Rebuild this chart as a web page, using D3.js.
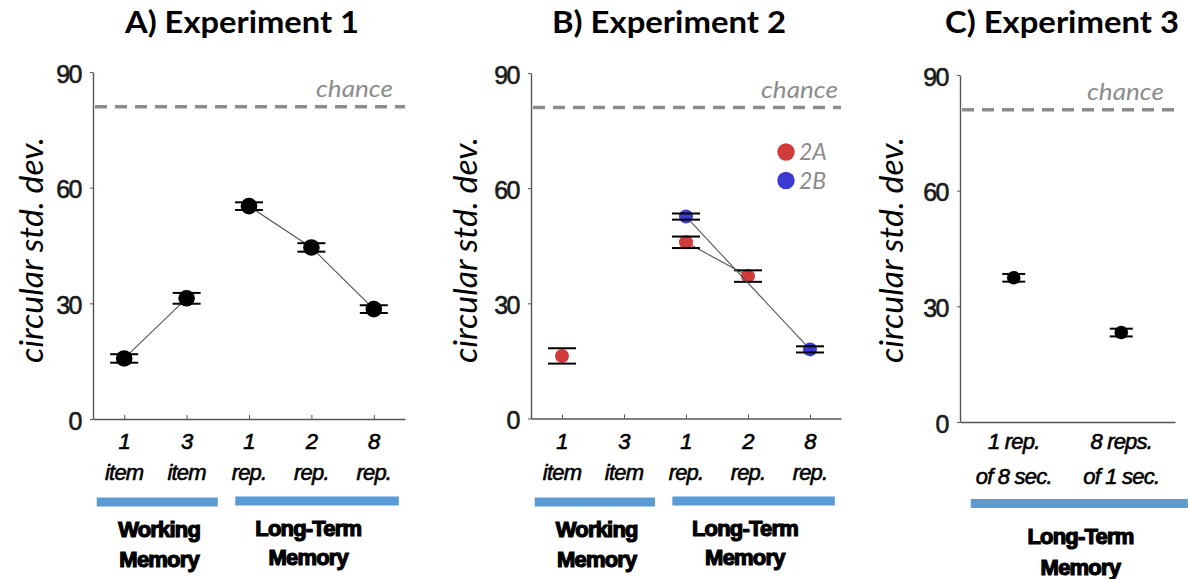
<!DOCTYPE html>
<html>
<head>
<meta charset="utf-8">
<script src="https://cdn.jsdelivr.net/npm/d3@7"></script>
<style>
  body { margin: 0; background: #fff; }
  text { font-family: "Liberation Sans", Arial, sans-serif; }
</style>
</head>
<body>
<div id="chart"></div>
<script>
// ---- data ----
var chance = 81;
var yTicks = [0, 30, 60, 90];

var exp1Top = ["1", "3", "1", "2", "8"];
var exp1Bottom = ["item", "item", "rep.", "rep.", "rep."];
var exp1Means = [15.7, 31.3, 55.2, 44.5, 28.5];
var exp1Err = [1.1, 1.4, 1.0, 1.1, 1.0];
var exp1Links = [[1, 2], [3, 4, 5]];

var exp2APos = [1, 3, 4];
var exp2AMeans = [16.3, 45.9, 37.1];
var exp2AErr = [2.0, 1.5, 1.5];
var exp2ALinks = [[3, 4]];
var exp2BPos = [3, 5];
var exp2BMeans = [52.6, 18.0];
var exp2BErr = [0.8, 0.8];
var exp2BLinks = [[3, 5]];

var exp3Top = ["1 rep.", "8 reps."];
var exp3Bottom = ["of 8 sec.", "of 1 sec."];
var exp3Means = [37.4, 23.2];
var exp3Err = [1.0, 1.0];

// memory-type groupings under the x axis (in x-axis units)
var groups12 = [
  {name: ["Working", "Memory"], span: [0.56, 2.5], at: 1.56},
  {name: ["Long-Term", "Memory"], span: [2.78, 5.4], at: 3.95}
];
var groups3 = [
  {name: ["Long-Term", "Memory"], span: [0.6, 2.62], at: 1.62}
];

var red = "#d13b3b", blue = "#3b3bd4", grey = "#8c8c8c", bar = "#5b9bd5";

var svg = d3.select("#chart").append("svg")
  .attr("width", 1188)
  .attr("height", 579);

// panel layout
var panels = [
  {title: "A) Experiment 1", titleX: 242, x0: 93, x1: 405, yTop: 72, yBot: 419, n: 5,
   labelX: 43, chanceX: 393, cap: 28, r: 8.3, ticks: true,
   top: exp1Top, bottom: exp1Bottom, groups: groups12, rowY: [449, 480]},
  {title: "B) Experiment 2", titleX: 669, x0: 531, x1: 841, yTop: 73, yBot: 418.5, n: 5,
   labelX: 477, chanceX: 838, cap: 28, r: 7, ticks: true,
   top: exp1Top, bottom: exp1Bottom, groups: groups12, rowY: [449, 480]},
  {title: "C) Experiment 3", titleX: 1062, x0: 960, x1: 1175, yTop: 75, yBot: 422, n: 2,
   labelX: 903, chanceX: 1164, cap: 23, r: 6.8, ticks: false,
   top: exp3Top, bottom: exp3Bottom, groups: groups3, rowY: [449, 484]}
];

panels.forEach(function(p, k) {
  var x = d3.scaleLinear().domain([0.5, p.n + 0.5]).range([p.x0, p.x1]);
  var y = d3.scaleLinear().domain([0, 90]).range([p.yBot, p.yTop]);
  var g = svg.append("g");
  p.xs = x; p.ys = y; p.g = g;

  // title
  g.append("text")
    .attr("x", p.titleX).attr("y", 33)
    .attr("text-anchor", "middle")
    .attr("textLength", 234).attr("lengthAdjust", "spacingAndGlyphs")
    .style("font-family", "Lato, 'Open Sans', sans-serif")
    .style("font-weight", "bold").style("font-size", "31px")
    .text(p.title);

  // y label
  g.append("text")
    .attr("transform", "translate(" + p.labelX + ",250) rotate(-90)")
    .attr("text-anchor", "middle")
    .attr("textLength", 226).attr("lengthAdjust", "spacingAndGlyphs")
    .style("font-family", "Lato, 'Open Sans', sans-serif")
    .style("font-style", "italic").style("font-size", "33px")
    .text("circular std. dev.");

  // y axis
  var yAxis = g.append("g")
    .attr("transform", "translate(" + p.x0 + ",0)")
    .call(d3.axisLeft(y).tickValues(yTicks).tickSizeInner(3).tickSizeOuter(0).tickPadding(9));
  yAxis.select(".domain").attr("stroke", "#555").attr("stroke-width", 1.4);
  yAxis.selectAll(".tick line").attr("stroke", "#555");
  yAxis.selectAll(".tick text")
    .attr("dy", "0.4em")
    .style("font-family", "'Liberation Sans', Arial, sans-serif")
    .style("font-size", "25px").style("letter-spacing", "-1.5px")
    .attr("fill", "#1a1a1a").attr("stroke", "#1a1a1a").attr("stroke-width", 0.6);

  // x axis
  var xAxis = g.append("g")
    .attr("transform", "translate(0," + p.yBot + ")")
    .call(d3.axisBottom(x).tickValues(d3.range(1, p.n + 1))
      .tickSizeInner(p.ticks ? -4 : 0).tickSizeOuter(0).tickFormat(""));
  xAxis.select(".domain").attr("stroke", "#555").attr("stroke-width", 1.4);
  xAxis.selectAll(".tick line").attr("stroke", "#555");

  // chance line
  g.append("line")
    .attr("x1", p.x0 + 2).attr("x2", p.x1)
    .attr("y1", y(chance)).attr("y2", y(chance))
    .attr("stroke", grey).attr("stroke-width", 3.5)
    .attr("stroke-dasharray", "12,8");
  g.append("text")
    .attr("x", p.chanceX).attr("y", y(chance) - 10)
    .attr("text-anchor", "end")
    .attr("textLength", 77).attr("lengthAdjust", "spacingAndGlyphs")
    .style("font-family", "Lato, 'Open Sans', sans-serif")
    .style("font-style", "italic").style("font-size", "23px")
    .attr("fill", grey)
    .text("chance");

  // x tick labels (two rows)
  [p.top, p.bottom].forEach(function(row, j) {
    g.selectAll(null).data(row).enter().append("text")
      .attr("x", function(d, i) { return x(i + 1); })
      .attr("y", p.rowY[j])
      .attr("text-anchor", "middle")
      .style("font-style", "italic").style("font-size", "22px")
      .style("letter-spacing", "-0.8px")
      .attr("fill", "#000").attr("stroke", "#000").attr("stroke-width", 0.6)
      .text(function(d) { return d; });
  });

  // memory groups
  p.groups.forEach(function(gr, j) {
    g.append("rect")
      .attr("x", x(gr.span[0])).attr("width", x(gr.span[1]) - x(gr.span[0]))
      .attr("y", k == 2 ? 499 : 497.5 - j).attr("height", 9)
      .attr("fill", bar);
    var base = k == 2 ? [544, 575] : (j == 0 ? [537, 567] : [536, 565]);
    gr.name.forEach(function(word, w) {
      g.append("text")
        .attr("x", x(gr.at)).attr("y", base[w])
        .attr("text-anchor", "middle")
        .style("font-weight", "bold").style("font-size", "22px")
        .style("letter-spacing", "-0.8px")
        .attr("fill", "#000").attr("stroke", "#000").attr("stroke-width", 1.2)
        .text(word);
    });
  });
});

// draw one condition series: links, dots, error caps
function drawSeries(p, pos, means, errs, links, colour) {
  var x = p.xs, y = p.ys, g = p.g;
  var lookup = {};
  pos.forEach(function(v, i) { lookup[v] = means[i]; });
  links.forEach(function(l) {
    g.append("path")
      .attr("d", d3.line().x(function(d) { return x(d); }).y(function(d) { return y(lookup[d]); })(l))
      .attr("fill", "none").attr("stroke", "#555").attr("stroke-width", 1.1);
  });
  g.selectAll(null).data(pos).enter().append("circle")
    .attr("cx", function(d) { return x(d); })
    .attr("cy", function(d, i) { return y(means[i]); })
    .attr("r", p.r)
    .attr("fill", colour);
  pos.forEach(function(v, i) {
    [means[i] - errs[i], means[i] + errs[i]].forEach(function(e) {
      g.append("line")
        .attr("x1", x(v) - p.cap / 2).attr("x2", x(v) + p.cap / 2)
        .attr("y1", y(e)).attr("y2", y(e))
        .attr("stroke", "#000").attr("stroke-width", 2);
    });
  });
}

drawSeries(panels[0], [1, 2, 3, 4, 5], exp1Means, exp1Err, exp1Links, "#000");
drawSeries(panels[1], exp2APos, exp2AMeans, exp2AErr, exp2ALinks, red);
drawSeries(panels[1], exp2BPos, exp2BMeans, exp2BErr, exp2BLinks, blue);
drawSeries(panels[2], [1, 2], exp3Means, exp3Err, [], "#000");

// legend for experiment 2
var legend = svg.append("g");
[["2A", red], ["2B", blue]].forEach(function(d, i) {
  legend.append("circle")
    .attr("cx", 786).attr("cy", 152 + i * 28.5).attr("r", 8.7)
    .attr("fill", d[1]);
  legend.append("text")
    .attr("x", 799).attr("y", 160 + i * 28.5)
    .style("font-family", "Lato, 'Open Sans', sans-serif")
    .style("font-style", "italic").style("font-size", "23px")
    .attr("fill", grey)
    .text(d[0]);
});
</script>
</body>
</html>
